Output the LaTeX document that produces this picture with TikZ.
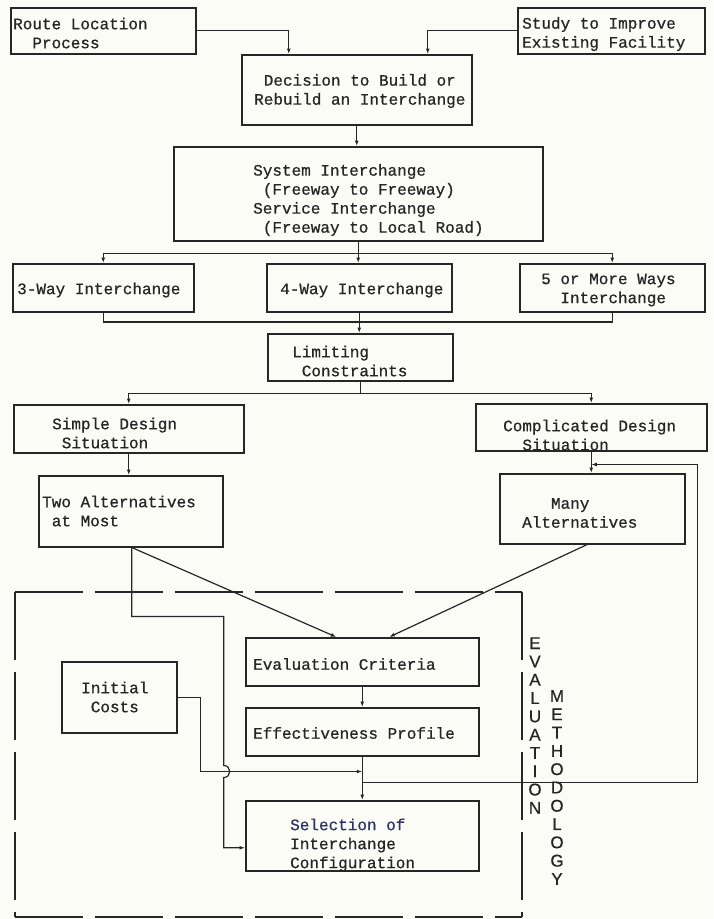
\documentclass[tikz,border=0pt]{standalone}
\usepackage{fontspec}
\setmainfont{Liberation Serif}
\newfontfamily\monofam[FakeBold=0.7]{Liberation Mono}
\newfontfamily\sansfam[FakeBold=0.6]{Liberation Sans}
\usetikzlibrary{arrows.meta,calc}
\definecolor{bg}{HTML}{FCFCF7}
\definecolor{ink}{HTML}{262626}
\definecolor{navy}{HTML}{2B3566}
\newcommand{\ic}{\phantom{X}}
\begin{document}
\begin{tikzpicture}[x=1pt,y=-1pt,
  box/.style={draw=ink, line width=1.5pt, anchor=north west, inner sep=0pt},
  txt/.style={anchor=west, align=left, inner sep=0pt, text=ink, font=\monofam\fontsize{16}{19}\selectfont},
  conn/.style={draw=ink, line width=1.2pt},
  arr/.style={conn, -{Latex[length=5.5pt,width=4pt]}},
  frame/.style={draw=ink, line width=1.9pt, dash pattern=on 68pt off 12pt},
  vlabel/.style={font=\sansfam\fontsize{17}{18.3}\selectfont, align=center, inner sep=0pt, text=ink}
]
\fill[bg] (0,0) rectangle (713,919);
\useasboundingbox (0,0) rectangle (713,919);

% boxes
\node[box, minimum width=185pt, minimum height=46pt] (route) at (10,7) {};
\node[box, minimum width=187pt, minimum height=46pt] (study) at (517,7) {};
\node[box, minimum width=230pt, minimum height=70pt] (decision) at (241,54) {};
\node[box, minimum width=369pt, minimum height=94pt] (system) at (173,146) {};
\node[box, minimum width=181pt, minimum height=48pt] (w3) at (12,263) {};
\node[box, minimum width=185pt, minimum height=48pt] (w4) at (266,263) {};
\node[box, minimum width=185pt, minimum height=48pt] (w5) at (519,263) {};
\node[box, minimum width=185pt, minimum height=47pt] (lim) at (267,333) {};
\node[box, minimum width=230pt, minimum height=48pt] (simple) at (13,404) {};
\node[box, minimum width=231pt, minimum height=47pt] (comp) at (475,403) {};
\node[box, minimum width=184pt, minimum height=71pt] (two) at (38,475) {};
\node[box, minimum width=185pt, minimum height=70pt] (many) at (499,473) {};
\node[box, minimum width=233pt, minimum height=48pt] (eval) at (245,637) {};
\node[box, minimum width=233pt, minimum height=48pt] (eff) at (245,707) {};
\node[box, minimum width=115pt, minimum height=71pt] (init) at (61,661) {};
\node[box, minimum width=233pt, minimum height=70pt] (sel) at (245,800) {};

% texts
\node[txt] (route-t) at (13,33) {Route Location\\\ic\ic Process};
\node[txt] (study-t) at (522,34) {Study to Improve\\Existing Facility};
\node[txt] (decision-t) at (254,91) {\ic Decision to Build or\\Rebuild an Interchange};
\node[txt] (system-t) at (253,200) {System Interchange\\\ic(Freeway to Freeway)\\Service Interchange\\\ic(Freeway to Local Road)};
\node[txt] (w3-t) at (17,290) {3-Way Interchange};
\node[txt] (w4-t) at (280,290) {4-Way Interchange};
\node[txt] (w5-t) at (541,290) {5 or More Ways\\\ic\ic Interchange};
\node[txt] (lim-t) at (292,361) {Limiting\\\ic Constraints};
\node[txt] (simple-t) at (52,433) {Simple Design\\\ic Situation};
\node[txt] (comp-t) at (503,435) {Complicated Design\\\ic\ic Situation};
\node[txt] (two-t) at (42,511) {Two Alternatives\\\ic at Most};
\node[txt] (many-t) at (522,513) {\ic\ic\ic Many\\Alternatives};
\node[txt] (eval-t) at (253,664) {Evaluation Criteria};
\node[txt] (eff-t) at (253,733) {Effectiveness Profile};
\node[txt] (init-t) at (81,697) {Initial\\\ic Costs};
\node[txt] (sel-t) at (290,845) {{\color{navy}Selection of}\\Interchange\\Configuration};

% connectors
\draw[arr] (route.east) -| ($(decision.north)+(-68,0)$);
\draw[arr] (study.west) -| ($(decision.north)+(71,0)$);
\draw[arr] (decision.south) -- (decision.south |- system.north);
\draw[arr] (system.south) -- ++(0,12) -| (w3.north);
\draw[arr] (system.south) -- ++(0,12) -| (w5.north);
\draw[arr] (system.south) -- (system.south |- w4.north);
\draw[conn] (w3.south) |- ($(lim.north)+(0,-11)$);
\draw[conn] (w5.south) |- ($(lim.north)+(0,-11)$);
\draw[arr] (w4.south) -- (w4.south |- lim.north);
\draw[arr] (lim.south) -- ++(0,12) -| (simple.north);
\draw[arr] (lim.south) -- ++(0,12) -| (comp.north);
\draw[arr] (simple.south) -- (simple.south |- two.north);
\draw[arr] (comp.south) -- (comp.south |- many.north);
\draw[arr] ($(two.south)+(1,0)$) -- ($(eval.north)+(-26,0)$);
\draw[arr] ($(many.south)+(-5,0)$) -- ($(eval.north)+(27,0)$);
\coordinate (hop) at ($(eff.south)+(-138.5,15)$);
\draw[arr] ($(two.south)+(1,0)$) -- ++(0,69) -| ($(hop)+(0,-6)$)
  .. controls ($(hop)+(8,-6)$) and ($(hop)+(8,6)$) .. ($(hop)+(0,6)$)
  |- ($(sel.west)+(0,12)$);
\draw[arr] (init.east) -- ++(23,0) |- ($(eff.south)+(0,15)$);
\draw[arr] (eval.south) -- (eff.north);
\draw[arr] (eff.south) -- (sel.north);
\coordinate (fb) at ($(eff.south)+(0,26)$);
\draw[arr] (fb) -- ($(fb)+(335.5,0)$) |- ($(comp.south)+(0,13)$);

% evaluation methodology frame
\draw[frame] (15,592) -- (522,592);
\draw[frame] (522,592) -- (522,917);
\draw[frame] (15,592) -- (15,917);
\draw[frame] (15,917) -- (522,917);
\node[vlabel] (evl) at (535,725.5) {E\\V\\A\\L\\U\\A\\T\\I\\O\\N};
\node[vlabel] (meth) at (557,787.5) {M\\E\\T\\H\\O\\D\\O\\L\\O\\G\\Y};
\end{tikzpicture}
\end{document}
